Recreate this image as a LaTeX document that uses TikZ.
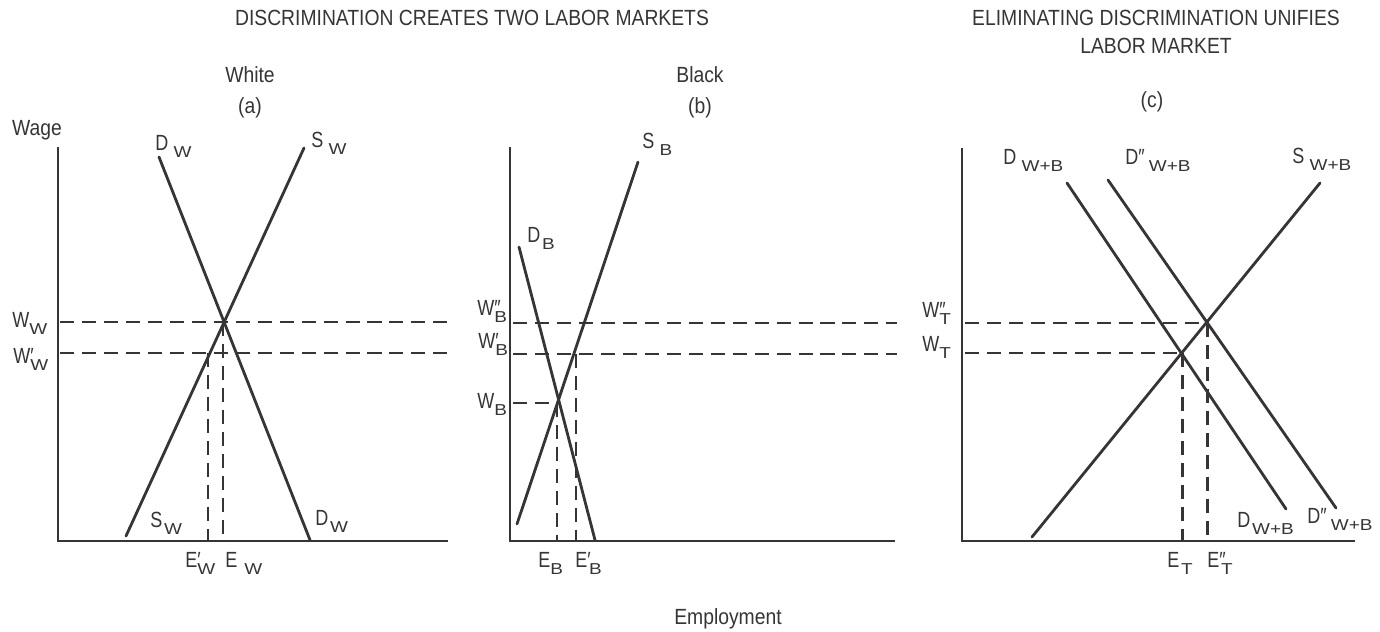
\documentclass[tikz,border=0pt]{standalone}
\usepackage{fontspec}
\setmainfont{Liberation Sans}[FakeStretch=0.88]
\newfontfamily\letterfont{Liberation Sans}[FakeStretch=0.82]
\newfontfamily\subfont{Liberation Sans}[FakeStretch=1.2]
\usetikzlibrary{positioning}
\definecolor{inkgray}{RGB}{55, 52, 52}
\newcommand{\curvelab}[3]{{\letterfont #1\rlap{#2}}\raisebox{-4pt}{\subfont\fontsize{9}{9}\selectfont #3}}

\begin{document}
\begin{tikzpicture}[
    x = 0.02cm, y = -0.02cm,
    axis/.style   = {line width=1.2pt, color=inkgray},
    curve/.style  = {line width=1.6pt, color=inkgray, line cap=round},
    guide/.style  = {line width=1.7pt, color=inkgray, dash pattern=on 8pt off 4.5pt},
    head/.style   = {font=\fontsize{12.5}{15.9}\selectfont, color=inkgray, align=center},
    caption/.style= {font=\fontsize{12.5}{14}\selectfont, color=inkgray},
    lab/.style    = {font=\fontsize{12.5}{14}\selectfont, color=inkgray, anchor=base west, inner sep=0pt},
  ]
  \useasboundingbox (0,0) rectangle (1380,632);

  \node[head] (title1) at (472,18) {DISCRIMINATION CREATES TWO LABOR MARKETS};
  \node[head] (title2) at (1156,32) {ELIMINATING DISCRIMINATION UNIFIES\\LABOR MARKET};
  \node[caption] (white) at (250,75) {White};
  \node[caption, below=1pt of white] (pa) {(a)};
  \node[caption] (black) at (700,75) {Black};
  \node[caption, below=1pt of black] (pb) {(b)};
  \node[caption] (pc) at (1152,102) {(c)};
  \node[caption] (employment) at (728,619) {Employment};

  % (a) white market
  \coordinate (aorig) at (58,541);
  \coordinate (atop)  at (58,147);
  \coordinate (aend)  at (448,541);
  \node[caption] (wage) at (37,130) {Wage};
  \draw[axis] (atop) -- (aorig) -- (aend);
  \coordinate (dwtop) at (159,157);
  \coordinate (dwbot) at (310,540);
  \coordinate (swtop) at (304,148);
  \coordinate (swbot) at (126,536);
  \draw[curve] (dwtop) -- (dwbot);
  \draw[curve] (swtop) -- (swbot);
  \coordinate (ww0) at (60,322);  \coordinate (ww1) at (455,322);
  \coordinate (wpw0) at (60,353); \coordinate (wpw1) at (455,353);
  \draw[guide] (ww0) -- (ww1);
  \draw[guide] (wpw0) -- (wpw1);
  \coordinate (ew0) at (223,322);  \coordinate (ew1) at (223,541);
  \coordinate (epw0) at (208,353); \coordinate (epw1) at (208,541);
  \draw[guide] (ew0) -- (ew1);
  \draw[guide] (epw0) -- (epw1);
  \node[lab] (ldwt) at (155,150) {\curvelab{D}{}{\kern3pt W}};
  \node[lab] (lswt) at (311,147) {\curvelab{S}{}{\kern3pt W}};
  \node[lab] (lswb) at (150,527) {\curvelab{S}{}{\kern1pt W}};
  \node[lab] (ldwb) at (315,525) {\curvelab{D}{}{\kern1pt W}};
  \node[lab] (lww)  at (12,327)  {\curvelab{W}{}{W}};
  \node[lab] (lwpw) at (13,363)  {\curvelab{W}{′}{W}};
  \node[lab] (lepw) at (185,567) {\curvelab{E}{′}{W}};
  \node[lab] (lew)  at (225,567) {\curvelab{E}{}{\kern4pt W}};

  % (b) black market
  \coordinate (borig) at (510,541);
  \coordinate (btop)  at (510,147);
  \coordinate (bend)  at (895,541);
  \draw[axis] (btop) -- (borig) -- (bend);
  \coordinate (dbtop) at (519,247);
  \coordinate (dbbot) at (595,540);
  \coordinate (sbtop) at (638,162);
  \coordinate (sbbot) at (517,524);
  \draw[curve] (dbtop) -- (dbbot);
  \draw[curve] (sbtop) -- (sbbot);
  \coordinate (wppb0) at (513,323); \coordinate (wppb1) at (897,323);
  \coordinate (wpb0)  at (513,354); \coordinate (wpb1)  at (897,354);
  \coordinate (wb0)   at (513,403); \coordinate (wb1)   at (557,403);
  \draw[guide] (wppb0) -- (wppb1);
  \draw[guide] (wpb0) -- (wpb1);
  \draw[guide] (wb0) -- (wb1);
  \coordinate (eb0)  at (557,403); \coordinate (eb1)  at (557,541);
  \coordinate (epb0) at (576,354); \coordinate (epb1) at (576,541);
  \draw[guide] (eb0) -- (eb1);
  \draw[guide] (epb0) -- (epb1);
  \node[lab] (ldb)  at (527,242) {\curvelab{D}{}{\kern1pt B}};
  \node[lab] (lsb)  at (642,148) {\curvelab{S}{}{\kern3pt B}};
  \node[lab] (lwppb) at (477,315) {\curvelab{W}{″}{B}};
  \node[lab] (lwpb)  at (478,348) {\curvelab{W}{′}{B}};
  \node[lab] (lwb)   at (477,408) {\curvelab{W}{}{B}};
  \node[lab] (leb)  at (538,567) {\curvelab{E}{}{B}};
  \node[lab] (lepb) at (575,567) {\curvelab{E}{′}{\kern1pt B}};

  % (c) unified market
  \coordinate (corig) at (962,541);
  \coordinate (ctop)  at (962,148);
  \coordinate (cend)  at (1355,541);
  \draw[axis] (ctop) -- (corig) -- (cend);
  \coordinate (dtop)   at (1067,183);
  \coordinate (dbot)   at (1286,509);
  \coordinate (ddtop)  at (1108,180);
  \coordinate (ddbot)  at (1336,508);
  \coordinate (sttop)  at (1320,183);
  \coordinate (stbot)  at (1032,537);
  \draw[curve] (dtop) -- (dbot);
  \draw[curve] (ddtop) -- (ddbot);
  \draw[curve] (sttop) -- (stbot);
  \coordinate (wppt0) at (965,323); \coordinate (wppt1) at (1207,323);
  \coordinate (wt0)   at (965,353); \coordinate (wt1)   at (1182,353);
  \draw[guide] (wppt0) -- (wppt1);
  \draw[guide] (wt0) -- (wt1);
  \coordinate (et0)   at (1182,353); \coordinate (et1)   at (1182,541);
  \coordinate (eppt0) at (1207,323); \coordinate (eppt1) at (1207,541);
  \draw[guide] (et0) -- (et1);
  \draw[guide] (eppt0) -- (eppt1);
  \node[lab] (ldt)   at (1003,164) {\curvelab{D}{}{\kern3pt W+B}};
  \node[lab] (lddt)  at (1125,164) {\curvelab{D}{″}{\kern6pt W+B}};
  \node[lab] (lst)   at (1292,163) {\curvelab{S}{}{\kern3pt W+B}};
  \node[lab] (ldb2)  at (1237,527) {\curvelab{D}{}{\kern1pt W+B}};
  \node[lab] (lddb2) at (1307,523) {\curvelab{D}{″}{\kern6pt W+B}};
  \node[lab] (lwppt) at (922,317) {\curvelab{W}{″}{T}};
  \node[lab] (lwt)   at (922,351) {\curvelab{W}{}{T}};
  \node[lab] (let)   at (1167,567) {\curvelab{E}{}{\kern1pt T}};
  \node[lab] (leppt) at (1207,567) {\curvelab{E}{″}{\kern1pt T}};
\end{tikzpicture}
\end{document}
